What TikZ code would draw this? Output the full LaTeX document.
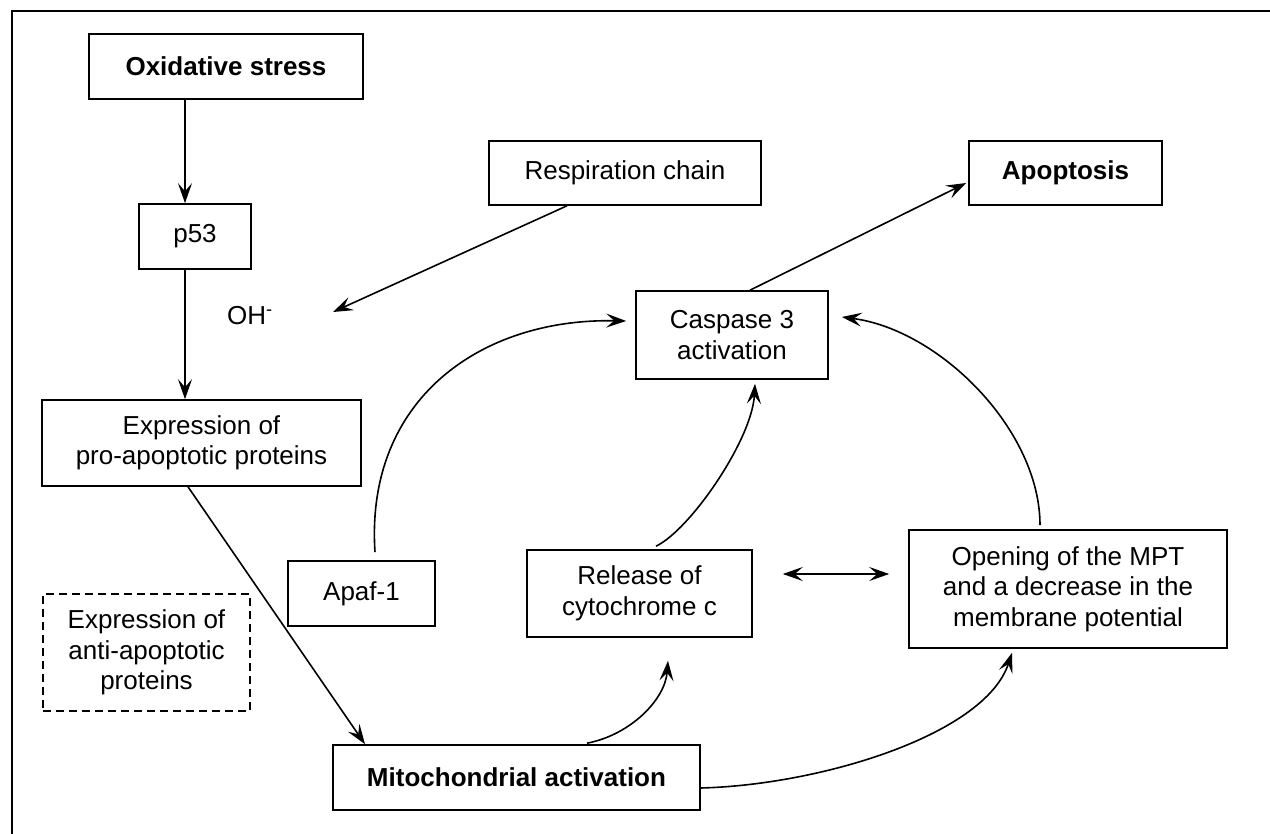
\documentclass[tikz,border=0pt]{standalone}
\usepackage{fontspec}
\setmainfont{Liberation Sans}
\usetikzlibrary{arrows.meta,calc}
\begin{document}
\begin{tikzpicture}[x=1pt,y=-1pt,
  box/.style={draw, line width=1.6pt, rectangle, inner sep=0pt, align=center,
              font=\fontsize{26}{30.5}\selectfont},
  boldbox/.style={box, font=\fontsize{26}{30.5}\selectfont\bfseries},
  dashbox/.style={box, dash pattern=on 8pt off 5pt},
  arr/.style={line width=1.6pt, -{Stealth[length=20pt,width=14pt,inset=8pt]}},
  dbl/.style={line width=1.6pt, {Stealth[length=20pt,width=14pt,inset=8pt]}-{Stealth[length=20pt,width=14pt,inset=8pt]}},
]
\useasboundingbox (0,0) rectangle (1270,834);

% frame
\draw[line width=1.3pt] (1270,11) -- (12,11) -- (12,834);

% boxes
\node[boldbox, minimum width=274pt, minimum height=65pt] (ox)   at (226,66.5)   {Oxidative stress};
\node[box,     minimum width=112pt, minimum height=65pt] (p53)  at (195,236.5)  {p53};
\node[box,     minimum width=272pt, minimum height=64pt] (resp) at (625,173)    {Respiration chain};
\node[boldbox, minimum width=193pt, minimum height=64pt] (apop) at (1065.5,173) {Apoptosis};
\node[font=\fontsize{26}{30}\selectfont, inner sep=0pt]  (oh)   at (250,316)    {OH\textsuperscript{-}};
\node[box,     minimum width=192pt, minimum height=88pt] (casp) at (732,335)    {Caspase 3\\activation};
\node[box,     minimum width=319pt, minimum height=86pt] (pro)  at (201.5,443)  {Expression of\\pro-apoptotic proteins};
\node[box,     minimum width=147pt, minimum height=65pt] (apaf) at (361.5,593.5) {Apaf-1};
\node[dashbox, minimum width=207pt, minimum height=117pt] (anti) at (146.5,652.5) {Expression of\\anti-apoptotic\\proteins};
\node[box,     minimum width=225pt, minimum height=87pt] (rel)  at (639.5,593.5) {Release of\\cytochrome c};
\node[box,     minimum width=318pt, minimum height=118pt] (mpt) at (1068,589)   {Opening of the MPT\\and a decrease in the\\membrane potential};
\node[boldbox, minimum width=367pt, minimum height=65pt] (mito) at (516.5,777.5) {Mitochondrial activation};

% helper points
\coordinate (vx) at (185,0);
\coordinate (ohtip) at (333,312);

% straight connectors
\draw[arr] (ox.south -| vx) -- (p53.north -| vx);
\draw[arr] (p53.south -| vx) -- (pro.north -| vx);
\draw[arr] ([xshift=-58pt]resp.south) -- (ohtip);
\draw[arr] ([xshift=-13.5pt]pro.south) -- ([xshift=-151.5pt]mito.north);
\draw[arr] ([xshift=18pt]casp.north) -- ([xshift=-2pt,yshift=-10pt]apop.west);
\draw[dbl] ([xshift=30pt,yshift=19.5pt]rel.east) -- ([xshift=-19pt,yshift=15pt]mpt.west);

% curved connectors
\draw[arr] ([xshift=13.5pt,yshift=8pt]apaf.north)
  .. controls (365,400) and (480,318) .. ([xshift=-9pt,yshift=14pt]casp.west);
\draw[arr] ([xshift=16.5pt,yshift=3pt]rel.north)
  .. controls (690,530) and (752,440) .. ([xshift=23pt,yshift=-4pt]casp.south);
\draw[arr] ([xshift=-28pt,yshift=4pt]mpt.north)
  .. controls (1040,430) and (940,330) .. ([xshift=13pt,yshift=18pt]casp.east);
\draw[arr] ([xshift=70.5pt,yshift=1pt]mito.north)
  .. controls (630,735) and (665,700) .. ([xshift=28.5pt,yshift=-23pt]rel.south);
\draw[arr] ([yshift=-10.5pt]mito.east)
  .. controls (820,785) and (985,735) .. ([xshift=-56pt,yshift=-4pt]mpt.south);
\end{tikzpicture}
\end{document}
